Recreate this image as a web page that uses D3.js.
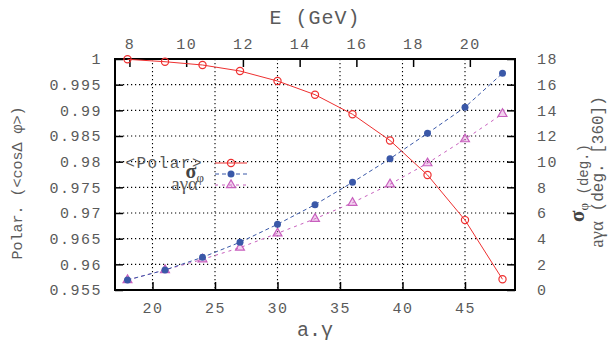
<!DOCTYPE html>
<html>
<head>
<meta charset="utf-8">
<script src="https://cdn.jsdelivr.net/npm/d3@7"></script>
<style>
  html, body { margin: 0; padding: 0; background: #fff; }
  svg { display: block; }
  .tick text { font-family: "Liberation Mono", monospace; font-size: 15px; fill: #5a5a5a; letter-spacing: 1.5px; }
</style>
</head>
<body>
<svg id="chart" width="608" height="341"></svg>
<script>
// ---- data ----
const aGamma = [18, 21, 24, 27, 30, 33, 36, 39, 42, 45, 48];
const polar = [0.99994, 0.99947, 0.99883, 0.99766, 0.99571, 0.99305, 0.98924, 0.98413, 0.97740, 0.96862, 0.95708];
const sigmaPhi = [0.78, 1.56, 2.55, 3.72, 5.12, 6.65, 8.39, 10.23, 12.21, 14.24, 16.89];
const aGammaAlpha = [0.78, 1.56, 2.39, 3.30, 4.42, 5.55, 6.80, 8.24, 9.88, 11.75, 13.72];
const bottomTicks = [20, 25, 30, 35, 40, 45];
const topTicks = [8, 10, 12, 14, 16, 18, 20];
const leftTicks = [0.955, 0.96, 0.965, 0.97, 0.975, 0.98, 0.985, 0.99, 0.995, 1];
const rightTicks = [0, 2, 4, 6, 8, 10, 12, 14, 16, 18];
const gevPerUnit = 0.440649; // E = aγ * 0.440649 GeV

// ---- layout ----
const L = 115, R = 515, T = 59, B = 290;
const svg = d3.select("#chart");

const x = d3.scaleLinear().domain([17, 49]).range([L, R]);
const xE = d3.scaleLinear().domain([17 * gevPerUnit, 49 * gevPerUnit]).range([L, R]);
const yL = d3.scaleLinear().domain([0.955, 1]).range([B, T]);
const yR = d3.scaleLinear().domain([0, 18]).range([B, T]);

const red = "#ee3030", blue = "#3a58a8", pink = "#c860be";
const mono = "Liberation Mono, monospace";
const serif = "Liberation Serif, DejaVu Serif, serif";
const txt = "#5a5a5a";

// grid
const grid = svg.append("g");
grid.selectAll("line.v").data(bottomTicks).join("line")
  .attr("x1", d => x(d)).attr("x2", d => x(d)).attr("y1", T).attr("y2", B)
  .attr("stroke", "#000").attr("stroke-width", 1.1).attr("stroke-dasharray", "1.2,2.8");
grid.selectAll("line.h").data(leftTicks.filter(d => d > 0.955 && d < 1)).join("line")
  .attr("x1", L).attr("x2", R).attr("y1", d => yL(d)).attr("y2", d => yL(d))
  .attr("stroke", "#000").attr("stroke-width", 1.1).attr("stroke-dasharray", "1.2,2.8");

// axes (inward ticks)
const tk = 8;
const axB = svg.append("g").attr("transform", `translate(0,${B})`)
  .call(d3.axisBottom(x).tickValues(bottomTicks).tickSize(-tk).tickPadding(12).tickFormat(d3.format("d")));
const axT = svg.append("g").attr("transform", `translate(0,${T})`)
  .call(d3.axisTop(xE).tickValues(topTicks).tickSize(-tk).tickPadding(10).tickFormat(d3.format("d")));
const axL = svg.append("g").attr("transform", `translate(${L},0)`)
  .call(d3.axisLeft(yL).tickValues(leftTicks).tickSize(-tk).tickPadding(13).tickFormat(d => String(+d.toFixed(3))));
const axRt = svg.append("g").attr("transform", `translate(${R},0)`)
  .call(d3.axisRight(yR).tickValues(rightTicks).tickSize(-tk).tickPadding(22).tickFormat(d3.format("d")));
[axB, axT, axL, axRt].forEach(a => {
  a.select(".domain").remove();
  a.selectAll(".tick line").attr("stroke", "#000").attr("stroke-width", 1.5);
});

// frame
svg.append("rect").attr("x", L).attr("y", T).attr("width", R - L).attr("height", B - T)
  .attr("fill", "none").attr("stroke", "#000").attr("stroke-width", 2);

// series lines
const lineL = d3.line().x((d, i) => x(aGamma[i])).y(d => yL(d));
const lineR = d3.line().x((d, i) => x(aGamma[i])).y(d => yR(d));
svg.append("path").attr("d", lineR(aGammaAlpha)).attr("fill", "none").attr("stroke", pink)
  .attr("stroke-width", 1).attr("stroke-dasharray", "3,4");
svg.append("path").attr("d", lineR(sigmaPhi)).attr("fill", "none").attr("stroke", blue)
  .attr("stroke-width", 1).attr("stroke-dasharray", "4,3");
svg.append("path").attr("d", lineL(polar)).attr("fill", "none").attr("stroke", red).attr("stroke-width", 1);

// markers
const tri = d3.symbol().type(d3.symbolTriangle).size(34);
svg.append("g").selectAll("path").data(aGammaAlpha).join("path")
  .attr("d", tri).attr("transform", (d, i) => `translate(${x(aGamma[i])},${yR(d)})`)
  .attr("fill", "rgba(220,130,210,0.35)").attr("stroke", pink).attr("stroke-width", 1.2);
svg.append("g").selectAll("circle").data(sigmaPhi).join("circle")
  .attr("cx", (d, i) => x(aGamma[i])).attr("cy", d => yR(d)).attr("r", 3.5).attr("fill", blue);
svg.append("g").selectAll("circle").data(polar).join("circle")
  .attr("cx", (d, i) => x(aGamma[i])).attr("cy", d => yL(d)).attr("r", 3.6)
  .attr("fill", "none").attr("stroke", red).attr("stroke-width", 1.2);

// legend
const lg = svg.append("g");
const lx1 = 215, lx2 = 247, lmx = 231;
lg.append("line").attr("x1", lx1).attr("x2", lx2).attr("y1", 163).attr("y2", 163).attr("stroke", red).attr("stroke-width", 1);
lg.append("circle").attr("cx", lmx).attr("cy", 163).attr("r", 3.6).attr("fill", "none").attr("stroke", red).attr("stroke-width", 1.2);
lg.append("line").attr("x1", lx1).attr("x2", lx2).attr("y1", 174).attr("y2", 174).attr("stroke", blue).attr("stroke-dasharray", "4,3");
lg.append("circle").attr("cx", lmx).attr("cy", 174).attr("r", 3.5).attr("fill", blue);
lg.append("line").attr("x1", lx1).attr("x2", lx2).attr("y1", 185).attr("y2", 185).attr("stroke", pink).attr("stroke-dasharray", "3,4");
lg.append("path").attr("d", tri).attr("transform", `translate(${lmx},185)`)
  .attr("fill", "rgba(220,130,210,0.35)").attr("stroke", pink).attr("stroke-width", 1.2);

lg.append("text").attr("x", 203).attr("y", 168).attr("text-anchor", "end")
  .attr("font-family", mono).attr("font-size", 16).attr("letter-spacing", "1.5px").attr("fill", txt).text("<Polar>");
const sg = lg.append("text").attr("x", 204).attr("y", 178).attr("text-anchor", "end")
  .attr("font-family", serif).attr("fill", "#444");
sg.append("tspan").attr("font-size", 20).attr("font-weight", "bold").text("σ");
sg.append("tspan").attr("font-size", 13).attr("dy", 4).text("φ");
lg.append("text").attr("x", 198).attr("y", 190).attr("text-anchor", "end")
  .attr("font-family", serif).attr("font-size", 19).attr("fill", txt).text("aγα");

// axis titles
svg.append("text").attr("x", (L + R) / 2).attr("y", 24).attr("text-anchor", "middle")
  .attr("font-family", mono).attr("font-size", 20).attr("letter-spacing", "1px").attr("fill", txt).text("E (GeV)");
svg.append("text").attr("x", (L + R) / 2).attr("y", 336).attr("text-anchor", "middle")
  .attr("font-family", mono).attr("font-size", 20).attr("fill", txt).text("a.γ");

svg.append("text").attr("transform", "translate(22,183) rotate(-90)").attr("text-anchor", "middle")
  .attr("font-family", mono).attr("font-size", 15).attr("fill", txt).text("Polar. (<cosΔ φ>)");

const r1 = svg.append("text").attr("transform", "translate(584,183) rotate(-90)").attr("text-anchor", "middle")
  .attr("fill", "#444");
r1.append("tspan").attr("font-family", serif).attr("font-size", 21).attr("font-weight", "bold").text("σ");
r1.append("tspan").attr("font-family", serif).attr("font-size", 13).attr("dy", 4).text("φ");
r1.append("tspan").attr("font-family", mono).attr("font-size", 14).attr("fill", txt).text(" (deg.)");

const r2 = svg.append("text").attr("transform", "translate(603,172) rotate(-90)").attr("text-anchor", "middle")
  .attr("fill", txt);
r2.append("tspan").attr("font-family", serif).attr("font-size", 19).text("aγα");
r2.append("tspan").attr("font-family", mono).attr("font-size", 16).text(" (deg. [360])");
</script>
</body>
</html>
